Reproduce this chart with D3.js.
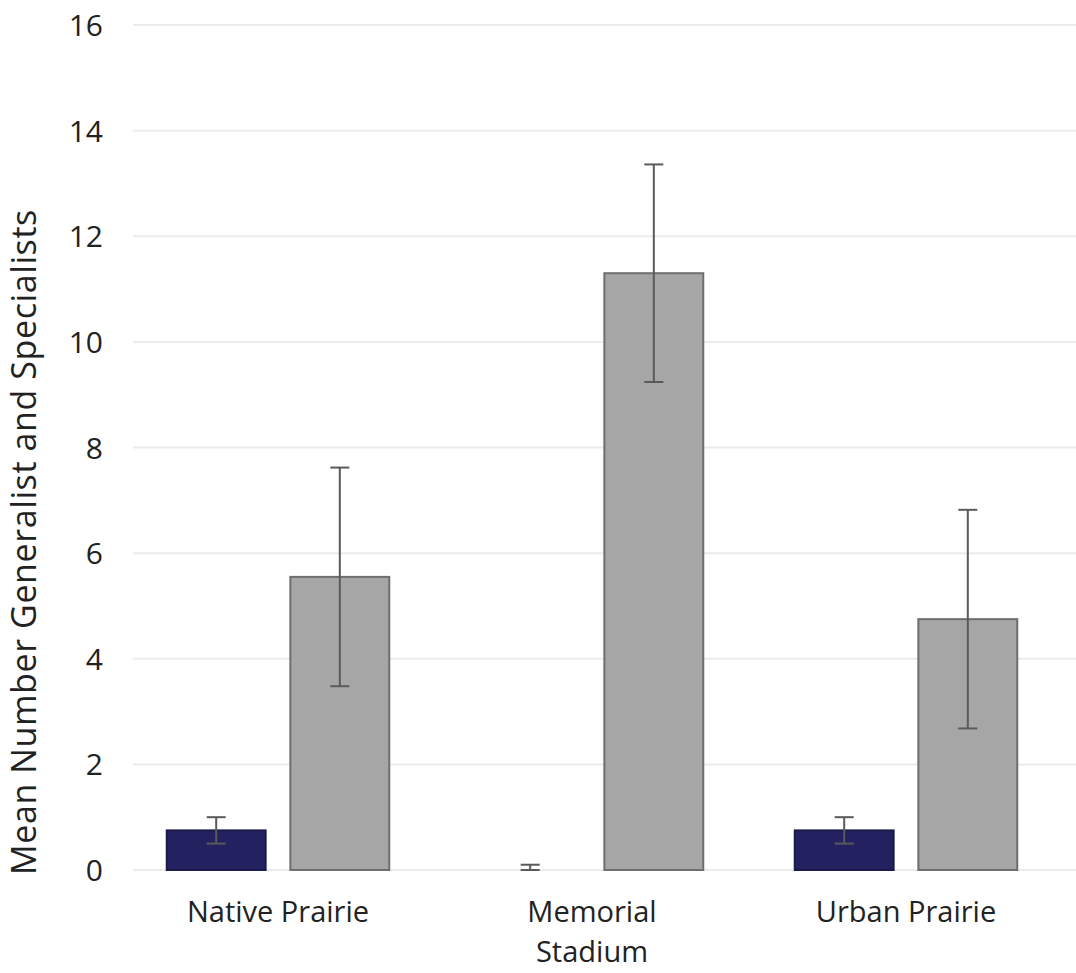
<!DOCTYPE html>
<html>
<head>
<meta charset="utf-8">
<script src="https://cdn.jsdelivr.net/npm/d3@7"></script>
<style>
  body { margin: 0; background: #fff; }
  text { font-family: "Open Sans", sans-serif; fill: #222; }
</style>
</head>
<body>
<div id="chart"></div>
<script>
// data
const sites = ["Native Prairie", "Memorial\nStadium", "Urban Prairie"];
const seriesNames = ["Specialists", "Generalists"];
const specialistMean = [0.75, 0.0, 0.75];
const specialistErr = [0.25, 0.1, 0.25];
const generalistMean = [5.55, 11.3, 4.75];
const generalistErr = [2.07, 2.06, 2.07];
const yTicks = [0, 2, 4, 6, 8, 10, 12, 14, 16];

window.onload = init;

function init()
{
    const width = 1076;
    const height = 973;
    const svg = d3.select('#chart').append('svg').attr('width', width).attr('height', height);

    const x = d3.scaleBand().domain(sites).range([121, 1063]).paddingInner(0).paddingOuter(0);
    const xs = d3.scaleBand().domain(seriesNames).range([0, x.bandwidth()]).paddingInner(0.2).paddingOuter(0.37);
    const y = d3.scaleLinear().domain([0, 16]).range([870, 25]);

    const fills = ["#232160", "#a6a6a6"];
    const strokes = ["#1c1a4a", "#6e6e6e"];

    // gridlines
    svg.append('g').selectAll('line').data(yTicks).enter().append('line')
        .attr('x1', 133).attr('x2', width)
        .attr('y1', d => y(d)).attr('y2', d => y(d))
        .attr('stroke', '#ebebeb').attr('stroke-width', 2);

    // y axis labels
    const yAxis = d3.axisLeft(y).tickValues(yTicks).tickSize(0).tickPadding(0);
    svg.append('g').attr('transform', 'translate(103,0)').call(yAxis)
        .call(g => g.select('.domain').remove())
        .selectAll('text')
        .style('font-family', '"Open Sans", sans-serif')
        .style('font-size', '30px')
        .attr('fill', '#222')
        .attr('dy', '0.35em');

    const rows = sites.map((s, i) => ({
        site: s,
        vals: [
            {k: seriesNames[0], v: specialistMean[i], e: specialistErr[i], c: 0},
            {k: seriesNames[1], v: generalistMean[i], e: generalistErr[i], c: 1}
        ]
    }));

    const groups = svg.append('g').selectAll('g').data(rows).enter().append('g')
        .attr('transform', d => `translate(${x(d.site)},0)`);

    groups.selectAll('rect').data(d => d.vals.filter(v => v.v > 0)).enter().append('rect')
        .attr('x', d => xs(d.k))
        .attr('width', xs.bandwidth())
        .attr('y', d => y(d.v))
        .attr('height', d => y(0) - y(d.v))
        .attr('fill', d => fills[d.c])
        .attr('stroke', d => strokes[d.c])
        .attr('stroke-width', 2);

    // error bars
    const eb = groups.selectAll('g.err').data(d => d.vals).enter().append('g').attr('class', 'err');
    const cx = d => xs(d.k) + xs.bandwidth() / 2;
    const lo = d => Math.max(0, d.v - d.e);
    eb.append('line')
        .attr('x1', cx).attr('x2', cx)
        .attr('y1', d => y(d.v + d.e)).attr('y2', d => y(lo(d)))
        .attr('stroke', '#5a5a5a').attr('stroke-width', 2);
    eb.append('line')
        .attr('x1', d => cx(d) - 9.5).attr('x2', d => cx(d) + 9.5)
        .attr('y1', d => y(d.v + d.e)).attr('y2', d => y(d.v + d.e))
        .attr('stroke', '#5a5a5a').attr('stroke-width', 2);
    eb.append('line')
        .attr('x1', d => cx(d) - 9.5).attr('x2', d => cx(d) + 9.5)
        .attr('y1', d => y(lo(d))).attr('y2', d => y(lo(d)))
        .attr('stroke', '#5a5a5a').attr('stroke-width', 2);

    // category labels
    const lab = svg.append('g').selectAll('text').data(sites).enter().append('text')
        .attr('x', d => x(d) + x.bandwidth() / 2)
        .attr('y', 922)
        .attr('text-anchor', 'middle')
        .style('font-size', '29px');
    lab.selectAll('tspan').data(d => d.split('\n')).enter().append('tspan')
        .attr('x', function () { return d3.select(this.parentNode).attr('x'); })
        .attr('dy', (d, i) => i === 0 ? 0 : 40)
        .text(d => d);

    // y title
    svg.append('text')
        .attr('transform', 'translate(36,542) rotate(-90)')
        .attr('text-anchor', 'middle')
        .style('font-size', '34px')
        .style('letter-spacing', '0.6px')
        .text('Mean Number Generalist and Specialists');
}
</script>
</body>
</html>
